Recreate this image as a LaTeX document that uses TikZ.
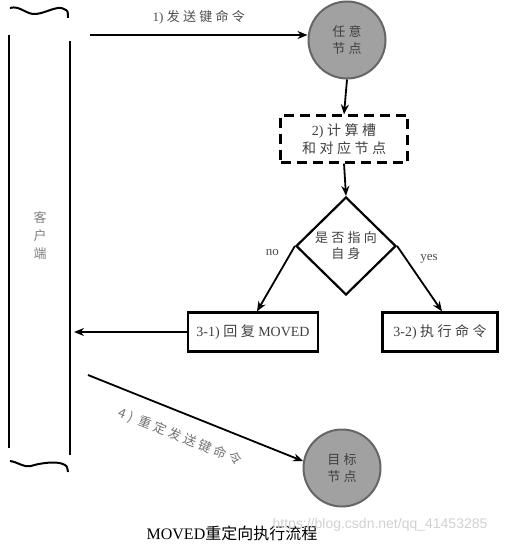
\documentclass[tikz,border=0pt]{standalone}
\usepackage{fontspec}
\setmainfont{Liberation Serif}
\newfontfamily\cjk{Noto Sans CJK SC}
\newfontfamily\cjkwide[LetterSpace=25]{Noto Sans CJK SC}
\newfontfamily\wmfont{Liberation Sans}
\usetikzlibrary{arrows.meta,shapes.geometric}

\begin{document}
\begin{tikzpicture}[x=1pt, y=-1pt,
    flow/.style={line width=1.8pt, -{Stealth[length=10pt,width=8pt]}},
    nodecirc/.style={circle, draw=black!60, line width=2pt, fill=black!37,
        minimum size=77pt, inner sep=0pt, align=center, text=black!75,
        font=\cjkwide\fontsize{13}{17}\selectfont},
    stepbox/.style={draw, line width=2.2pt, inner sep=0pt, align=center,
        minimum height=39pt, text=black!75, font=\fontsize{14}{17}\selectfont},
    lbl/.style={text=black!70, font=\fontsize{13}{15}\selectfont}
]
\useasboundingbox (0,0) rectangle (506,545);

% Client column
\draw[line width=2pt] (9,35) -- (9,448);
\draw[line width=2pt] (70,41) -- (70,455);
\draw[line width=2pt] (10,8) .. controls (20,5) and (26,15) .. (36,14)
    .. controls (46,13) and (58,5) .. (64,9) .. controls (68,11) .. (68,18);
\draw[line width=2pt] (10,461) .. controls (18,462) and (24,468) .. (31,466)
    .. controls (40,463) and (56,461) .. (63,464) .. controls (67,466) .. (68,472);
\node[text=black!50, align=center, font=\cjk\fontsize{13}{18}\selectfont] (client) at (40,236) {客\\户\\端};
\coordinate (clientout) at (90,35);
\coordinate (clientin) at (74,332);
\coordinate (clientredir) at (88,375);

% Nodes
\node[nodecirc] (anynode) at (347,40) {任意\\节点};
\node[stepbox, dash pattern=on 10pt off 6pt, minimum width=127pt, minimum height=47pt,
    font=\fontsize{14}{18}\selectfont] (calc) at (344,139) {2) {\cjkwide 计算槽}\\{\cjkwide 和对应节点}};
\node[diamond, draw, line width=2.2pt, aspect=1, minimum width=100pt, minimum height=98pt,
    inner sep=0pt, align=center, text=black!75, font=\cjkwide\fontsize{13}{16}\selectfont] (check) at (346,246) {是否指向\\自身};
\node[stepbox, minimum width=130pt] (moved) at (253,332) {3-1) {\cjkwide 回复} MOVED};
\node[stepbox, minimum width=115pt] (exec) at (440,332) {3-2) {\cjkwide 执行命令}};
\node[nodecirc] (target) at (342,468) {目标\\节点};

% Connectors
\draw[flow] (clientout) -- node[lbl, above=6pt] {1) {\cjkwide 发送键命令}} (anynode.west |- clientout);
\draw[flow] (anynode.south) -- (calc.north);
\draw[flow] (calc.south) -- (check.north);
\draw[flow] (check.west) -- (moved.north west -| 257,0) node[pos=0.1, lbl, left=8pt] {no};
\draw[flow] (check.east) -- (exec.north west -| 442,0) node[pos=0.2, lbl, right=10pt] {yes};
\draw[flow] (moved.west) -- (clientin);
\draw[flow] (clientredir) -- node[lbl, sloped, pos=0.47, below=12pt, text=black!55,
    font=\cjkwide\fontsize{13}{15}\selectfont] {4)\hspace{6pt}重定发送键命令} (target.170);

% Caption
\node[font=\fontsize{16}{18}\selectfont] (caption) at (232,533) {MOVED{\cjk 重定向执行流程}};
\node[text=black!18, font=\wmfont\fontsize{14}{16}\selectfont] (mark) at (380,525) {https://blog.csdn.net/qq\_41453285};
\end{tikzpicture}
\end{document}
